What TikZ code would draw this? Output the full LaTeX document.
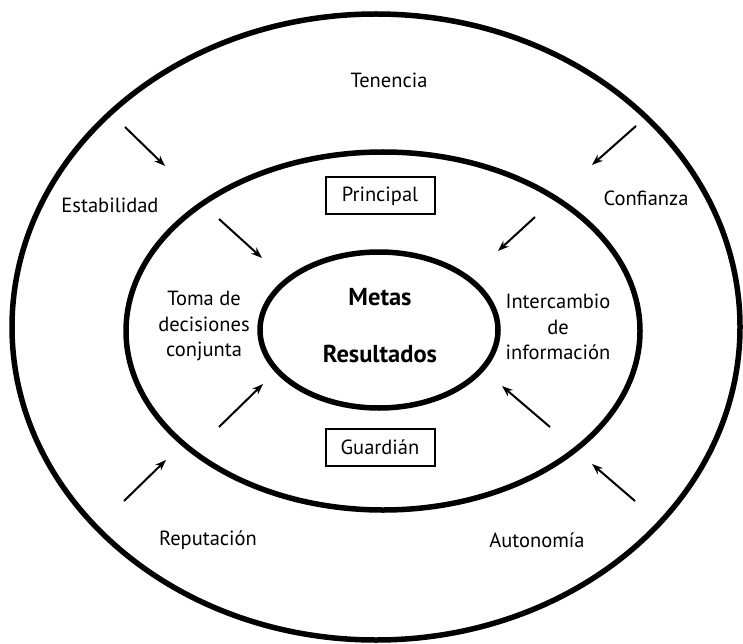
\documentclass[tikz,border=0pt]{standalone}
\usepackage{fontspec}
\setmainfont{PT Sans}
\usetikzlibrary{arrows.meta}

\begin{document}
\begin{tikzpicture}[x=1pt, y=-1pt,
        ring/.style={line width=5.5pt},
        flow/.style={line width=2pt, -{Stealth[length=11pt, width=8pt]}},
        rolebox/.style={draw, line width=2pt, minimum width=109pt, minimum height=37pt, inner sep=0pt, font=\fontsize{20.5}{25}\selectfont},
        lbl/.style={font=\fontsize{20.5}{25.5}\selectfont, align=center, inner sep=0pt},
        core/.style={font=\fontsize{24.5}{28}\selectfont\bfseries, inner sep=0pt}]
        \useasboundingbox (0,0) rectangle (743,644);

        % Three rings
        \draw[ring] (376,327) ellipse [x radius=364, y radius=313];
        \draw[ring] (383,331) ellipse [x radius=257, y radius=179];
        \draw[ring] (379,330) ellipse [x radius=119, y radius=78];

        % Outer ring labels
        \node[lbl] (ten) at (389,80) {Tenencia};
        \node[lbl] (est) at (110,205) {Estabilidad};
        \node[lbl] (con) at (646,198) {Confianza};
        \node[lbl] (rep) at (208,540) {Reputación};
        \node[lbl] (aut) at (537,540) {Autonomía};

        % Middle ring labels
        \node[rolebox] (pri) at (380,196) {Principal};
        \node[rolebox] (gua) at (380,447) {Guardián};
        \node[lbl] (tom) at (204,326) {Toma de\\decisiones\\conjunta};
        \node[lbl] (int) at (558,327) {Intercambio\\de\\información};

        % Core
        \node[core] (met) at (380,297) {Metas};
        \node[core] (res) at (380,354) {Resultados};

        % Arrow ends
        \coordinate (a1) at (125,127); \coordinate (b1) at (165,166);
        \coordinate (a2) at (219,219); \coordinate (b2) at (262,258);
        \coordinate (a3) at (636,126); \coordinate (b3) at (592,165);
        \coordinate (a4) at (535,217); \coordinate (b4) at (498,251);
        \coordinate (a5) at (219,427); \coordinate (b5) at (263,384);
        \coordinate (a6) at (124,501); \coordinate (b6) at (166,460);
        \coordinate (a7) at (550,427); \coordinate (b7) at (502,386);
        \coordinate (a8) at (635,501); \coordinate (b8) at (592,464);

        % Arrows pointing inward
        \foreach \i in {1,...,8}
            \draw[flow] (a\i) -- (b\i);
    \end{tikzpicture}
\end{document}
